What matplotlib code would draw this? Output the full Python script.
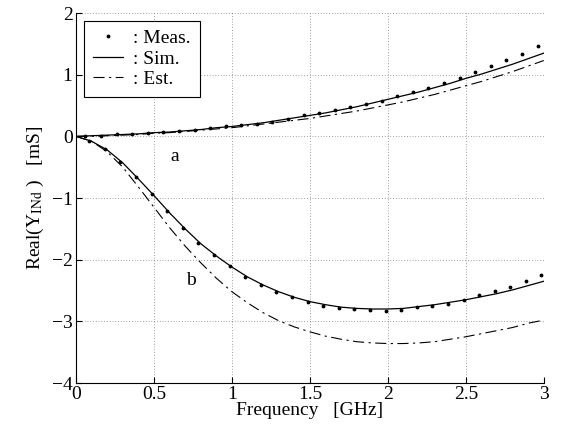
import matplotlib
matplotlib.use("Agg")
import matplotlib.pyplot as plt

plt.rcParams["font.family"] = ["Liberation Serif", "DejaVu Serif"]
plt.rcParams["mathtext.fontset"] = "stix"

# Measured points (dots), frequency in GHz, Real(Y) in mS
MEAS_A_X = [0.06 + 0.1 * k for k in range(30)]
MEAS_A_Y = [0.01, 0.01, 0.03, 0.04, 0.05, 0.07, 0.08, 0.11, 0.13, 0.16,
            0.18, 0.20, 0.24, 0.28, 0.34, 0.38, 0.43, 0.47, 0.52, 0.58,
            0.65, 0.72, 0.79, 0.87, 0.95, 1.04, 1.14, 1.24, 1.33, 1.46]
MEAS_B_X = [0.085 + 0.1 * k for k in range(30)]
MEAS_B_Y = [-0.07, -0.20, -0.41, -0.66, -0.93, -1.21, -1.48, -1.73, -1.93, -2.11,
            -2.28, -2.41, -2.52, -2.61, -2.68, -2.75, -2.79, -2.80, -2.82, -2.83,
            -2.81, -2.77, -2.75, -2.72, -2.65, -2.58, -2.51, -2.44, -2.35, -2.25]

# Simulated / estimated curves on 0.1 GHz grid
FREQ = [0.1 * k for k in range(31)]
SIM_A = [0.0, 0.01, 0.02, 0.03, 0.04, 0.06, 0.07, 0.09, 0.11, 0.14, 0.16,
         0.19, 0.22, 0.26, 0.30, 0.34, 0.38, 0.43, 0.48, 0.54, 0.60,
         0.66, 0.72, 0.79, 0.86, 0.94, 1.01, 1.09, 1.17, 1.26, 1.35]
SIM_B = [0.0, -0.08, -0.22, -0.43, -0.69, -0.96, -1.24, -1.50, -1.74, -1.94, -2.12,
         -2.28, -2.41, -2.52, -2.61, -2.68, -2.73, -2.77, -2.79, -2.80, -2.80,
         -2.79, -2.76, -2.73, -2.69, -2.65, -2.60, -2.55, -2.49, -2.42, -2.35]
EST_A = [0.0, 0.0, 0.01, 0.02, 0.03, 0.05, 0.06, 0.08, 0.10, 0.12, 0.14,
         0.17, 0.20, 0.23, 0.26, 0.29, 0.33, 0.37, 0.41, 0.46, 0.51,
         0.56, 0.62, 0.68, 0.75, 0.82, 0.89, 0.97, 1.05, 1.14, 1.23]
EST_B = [0.0, -0.08, -0.25, -0.50, -0.82, -1.15, -1.48, -1.78, -2.05, -2.30, -2.52,
         -2.70, -2.86, -2.99, -3.09, -3.17, -3.24, -3.29, -3.33, -3.35, -3.36,
         -3.36, -3.35, -3.33, -3.29, -3.25, -3.20, -3.15, -3.10, -3.03, -2.98]

FS = 14

fig = plt.figure(figsize=(5.65, 4.34), dpi=100)
ax = fig.add_axes([0.1345, 0.1175, 0.9625 - 0.1345, 0.970 - 0.1175])

dash_dot = (0, (10, 4, 2, 4))
ax.plot(MEAS_A_X, MEAS_A_Y, "k.", ms=3.5, label=": Meas.")
ax.plot(FREQ, SIM_A, "k-", lw=0.9, label=": Sim.")
ax.plot(FREQ, EST_A, color="k", ls=dash_dot, lw=0.8, label=": Est.")
ax.plot(MEAS_B_X, MEAS_B_Y, "k.", ms=3.5)
ax.plot(FREQ, SIM_B, "k-", lw=0.9)
ax.plot(FREQ, EST_B, color="k", ls=dash_dot, lw=0.8)

ax.text(0.63, -0.33, "a", fontsize=FS, ha="center", va="center")
ax.text(0.735, -2.33, "b", fontsize=FS, ha="center", va="center")

ax.set_xlim(0, 3)
ax.set_ylim(-4, 2)
ax.set_xticks([0, 0.5, 1, 1.5, 2, 2.5, 3])
ax.set_xticklabels(["0", "0.5", "1", "1.5", "2", "2.5", "3"])
ax.set_yticks([-4, -3, -2, -1, 0, 1, 2])
ax.set_yticklabels(["\u22124", "\u22123", "\u22122", "\u22121", "0", "1", "2"])
ax.tick_params(direction="in", length=4, width=0.8, labelsize=FS, pad=2.5)
ax.grid(True, color="k", ls=(0, (1, 3)), lw=0.5, alpha=0.7)
ax.spines["top"].set_visible(False)
ax.spines["right"].set_visible(False)

ax.set_xlabel("Frequency   [GHz]", fontsize=FS, labelpad=-1)
ax.set_ylabel(r"Real(Y$_{\rm INd}$ )   [mS]", fontsize=FS, labelpad=4)

leg = ax.legend(loc="upper left", fontsize=FS, handlelength=1.55,
                fancybox=False, framealpha=1, edgecolor="k",
                borderpad=0.45, labelspacing=0.15, handletextpad=0.55,
                borderaxespad=0.4)
leg.get_frame().set_linewidth(0.8)

fig.savefig("out.png", dpi=100)
